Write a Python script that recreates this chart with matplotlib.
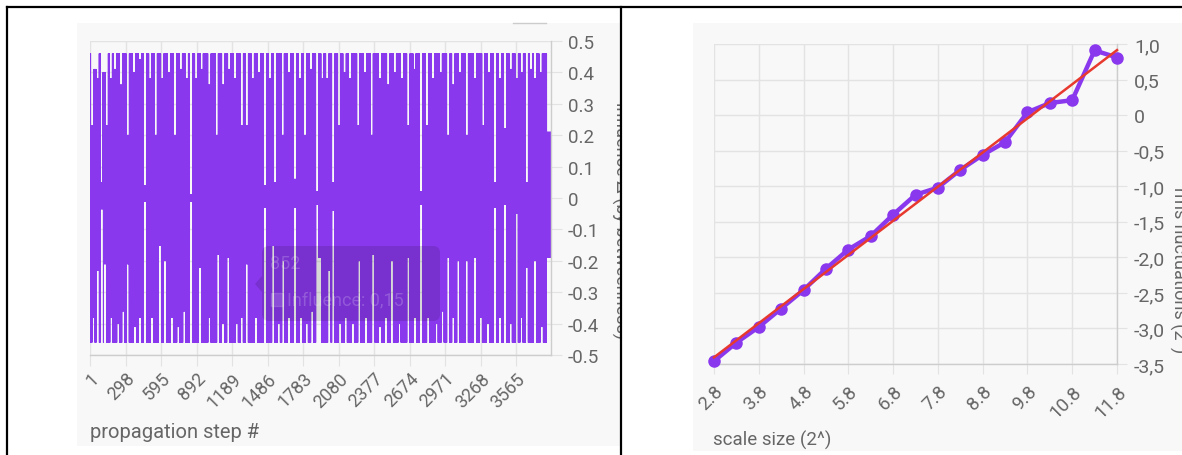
import matplotlib
matplotlib.use("Agg")
import matplotlib.pyplot as plt
import numpy as np
from matplotlib.lines import Line2D
from matplotlib.patches import FancyBboxPatch, Polygon, Rectangle
from matplotlib.transforms import Bbox, TransformedBbox

plt.rcParams["font.family"] = ["Roboto", "DejaVu Sans"]
plt.rcParams["path.simplify"] = False

# left chart: influence delta per propagation step
n_steps = 3857
step_ticks = [1, 298, 595, 892, 1189, 1486, 1783, 2080, 2377, 2674, 2971, 3268, 3565]
swing_top = 0.46
swing_bottom = -0.46
# pale streaks: step where the trace stops short of the top, and how high it gets there
top_gap_steps = [20, 42, 65, 99, 120, 141, 175, 210, 262, 316, 368, 419, 461, 505,
                 551, 606, 660, 712, 760, 810, 846, 890, 935, 1000, 1061, 1116, 1165,
                 1214, 1270, 1312, 1362, 1415, 1465, 1508, 1549, 1613, 1665, 1716,
                 1758, 1800, 1850, 1902, 1945, 1986, 2036, 2086, 2130, 2176, 2245,
                 2300, 2357, 2427, 2496, 2550, 2610, 2664, 2715, 2770, 2818, 2870,
                 2935, 2998, 3040, 3095, 3152, 3222, 3291, 3340, 3389, 3430, 3473,
                 3520, 3570, 3612, 3654, 3690, 3723, 3770]
top_gap_reach = [0.23, 0.41, 0.38, 0.05, 0.40, 0.23, 0.38, 0.41, 0.36, 0.20, 0.40,
                 0.44, 0.04, 0.38, 0.20, 0.38, 0.40, 0.20, 0.41, 0.38, 0.01, 0.38,
                 0.41, 0.36, 0.20, 0.36, 0.41, 0.38, 0.23, 0.23, 0.38, 0.40, 0.04,
                 0.38, 0.05, 0.20, 0.40, 0.06, 0.38, 0.20, 0.41, 0.02, 0.38, 0.38,
                 0.05, 0.23, 0.40, 0.38, 0.23, 0.40, 0.20, 0.38, 0.36, 0.40, 0.38,
                 0.23, 0.41, 0.02, 0.23, 0.38, 0.40, 0.20, 0.36, 0.40, 0.20, 0.38,
                 0.23, 0.40, 0.05, 0.38, 0.22, 0.41, 0.38, 0.40, 0.05, 0.41, 0.38,
                 0.40]
bottom_gap_steps = [30, 65, 99, 126, 180, 238, 280, 316, 377, 420, 461, 520, 586, 628,
                    685, 740, 790, 846, 921, 1000, 1074, 1115, 1158, 1228, 1270, 1312,
                    1390, 1465, 1534, 1580, 1618, 1665, 1716, 1765, 1814, 1860, 1902,
                    1925, 2003, 2036, 2092, 2140, 2200, 2254, 2310, 2371, 2427, 2475,
                    2525, 2590, 2664, 2720, 2770, 2830, 2900, 2950, 2998, 3040, 3082,
                    3152, 3222, 3270, 3330, 3389, 3430, 3473, 3520, 3570, 3610, 3654,
                    3723, 3779]
bottom_gap_reach = [-0.38, -0.23, -0.035, -0.21, -0.38, -0.40, -0.36, -0.21, -0.41,
                    -0.38, -0.01, -0.38, -0.15, -0.20, -0.38, -0.41, -0.36, -0.01,
                    -0.22, -0.38, -0.18, -0.40, -0.19, -0.40, -0.38, -0.21, -0.38,
                    -0.03, -0.15, -0.40, -0.20, -0.38, -0.03, -0.38, -0.40, -0.36,
                    -0.02, -0.19, -0.23, -0.04, -0.40, -0.38, -0.40, -0.20, -0.38,
                    -0.18, -0.41, -0.38, -0.20, -0.40, -0.19, -0.38, -0.02, -0.38,
                    -0.40, -0.36, -0.19, -0.38, -0.20, -0.20, -0.19, -0.38, -0.40,
                    -0.03, -0.38, -0.02, -0.40, -0.05, -0.38, -0.22, -0.20, -0.41]
tail_start = 3822
tail_top = 0.21
tail_bottom = -0.19

# right chart: rms fluctuations vs scale size
scale_sizes = [2.8, 3.3, 3.8, 4.3, 4.8, 5.3, 5.8, 6.3, 6.8, 7.3, 7.8, 8.3, 8.8, 9.3,
               9.8, 10.3, 10.8, 11.3, 11.8]
rms_fluct = [-3.46, -3.20, -2.98, -2.72, -2.46, -2.16, -1.89, -1.70, -1.40, -1.12,
             -1.02, -0.77, -0.56, -0.38, 0.04, 0.17, 0.21, 0.91, 0.81]
scale_ticks = [2.8, 3.8, 4.8, 5.8, 6.8, 7.8, 8.8, 9.8, 10.8, 11.8]

W, H = 1182, 456
PURPLE = "#8a38ee"
GRID = "#e3e3e3"
AXLINE = "#cdcdcd"
TXT = "#666666"
BG = "#f8f8f8"
PT = 0.72  # points per pixel at dpi 100


def fx(px):
    return px / W


def fy(py):
    return 1 - py / H


gap_half = 11
steps = np.arange(1, n_steps + 1)
upper = np.full(n_steps, swing_top)
lower = np.full(n_steps, swing_bottom)
for s, v in zip(top_gap_steps, top_gap_reach):
    upper[max(s - 1 - gap_half, 0): s + gap_half] = v
for s, v in zip(bottom_gap_steps, bottom_gap_reach):
    lower[max(s - 1 - gap_half, 0): s + gap_half] = v
upper[tail_start - 1:] = tail_top
lower[tail_start - 1:] = tail_bottom
influence = np.where(steps % 2 == 1, upper, lower)

fig = plt.figure(figsize=(W / 100, H / 100), dpi=100)
fig.patch.set_facecolor("white")

# chart backgrounds
for x0, y0, x1, y1 in [(77, 24, 620, 447), (693, 24, 1182, 452)]:
    fig.patches.append(Rectangle((fx(x0), fy(y1)), fx(x1 - x0), (y1 - y0) / H,
                                 transform=fig.transFigure, facecolor=BG,
                                 edgecolor="none", zorder=-10))


def style_axes(ax, label_size):
    ax.set_facecolor("none")
    for side in ("left", "top"):
        ax.spines[side].set_visible(False)
    for side in ("right", "bottom"):
        ax.spines[side].set_color(AXLINE)
        ax.spines[side].set_linewidth(1.0)
    ax.grid(True, color=GRID, linewidth=1.0)
    ax.set_axisbelow(True)
    ax.yaxis.tick_right()
    ax.tick_params(axis="y", length=11 * PT, color=GRID, pad=6 * PT,
                   labelsize=label_size, labelcolor=TXT)
    ax.tick_params(axis="x", length=11 * PT, color=GRID, pad=3 * PT, labelsize=13,
                   labelcolor=TXT)


# ---- left chart ----
ax1 = fig.add_axes([fx(90), fy(356), fx(461), 314 / H])
style_axes(ax1, 13.5)
ax1.plot(steps, influence, color=PURPLE, linewidth=0.5)
ax1.set_xlim(1, n_steps)
ax1.set_ylim(-0.5, 0.5)
yt1 = np.round(np.arange(-0.5, 0.51, 0.1), 1)
ax1.set_yticks(yt1)
ax1.set_yticklabels(["0" if v == 0 else f"{v:.1f}" for v in yt1])
ax1.set_xticks(step_ticks)
ax1.set_xticklabels([str(s) for s in step_ticks], rotation=45, ha="right",
                    va="top", rotation_mode="anchor")

# ---- right chart ----
ax2 = fig.add_axes([fx(714), fy(365), fx(403), 320 / H])
style_axes(ax2, 14)
fit = np.polyfit(scale_sizes, rms_fluct, 1)
trend_x = np.array([scale_sizes[0], scale_sizes[-1]])
ax2.plot(scale_sizes, rms_fluct, color=PURPLE, linewidth=3.2, marker="o",
         markersize=8, solid_joinstyle="round", zorder=3, clip_on=False)
ax2.plot(trend_x, np.polyval(fit, trend_x), color="#e8392f", linewidth=1.8,
         zorder=4, clip_on=False)
ax2.set_xlim(2.8, 11.8)
ax2.set_ylim(-3.5, 1.0)
yt2 = np.arange(-3.5, 1.01, 0.5)
ax2.set_yticks(yt2)
ax2.set_yticklabels(["0" if abs(v) < 1e-9 else f"{v:.1f}".replace(".", ",")
                     for v in yt2])
ax2.set_xticks(scale_ticks)
ax2.set_xticklabels([f"{v:.1f}" for v in scale_ticks], rotation=45, ha="right",
                    va="top", rotation_mode="anchor")
ax2.tick_params(axis="x", length=10 * PT, pad=8 * PT, labelsize=13.5)
ax2.tick_params(axis="y", length=10 * PT, pad=7 * PT)

# axis titles
fig.text(fx(90), fy(433), "propagation step #", fontsize=14.5, color=TXT,
         ha="left", va="center")
fig.text(fx(713), fy(440), "scale size (2^)", fontsize=13.5, color=TXT,
         ha="left", va="center")
ylab1 = fig.text(fx(611), fy(221), "influence Δ (by betweenness)", fontsize=13,
                 color=TXT, rotation=-90, ha="left", va="center")
ylab1.set_clip_box(TransformedBbox(Bbox([[0, 0], [fx(620), 1]]), fig.transFigure))
ylab1.set_clip_on(True)
fig.text(fx(1169), fy(270), "rms fluctuations (2^)", fontsize=13, color=TXT,
         rotation=-90, ha="left", va="center")

# faded tooltip left over in the screenshot
px = fig.dpi_scale_trans
tip = FancyBboxPatch((2.62, (H - 322) / 100), 1.78, 0.75,
                     boxstyle="round,pad=0,rounding_size=0.07", transform=px,
                     facecolor="black", alpha=0.13, edgecolor="none", zorder=5)
fig.patches.append(tip)
fig.patches.append(Polygon([(2.62, (H - 277) / 100), (2.55, (H - 285) / 100),
                            (2.62, (H - 293) / 100)], closed=True, transform=px,
                           facecolor="black", alpha=0.13, edgecolor="none",
                           zorder=5))
fig.patches.append(Rectangle((2.71, (H - 307) / 100), 0.12, 0.13, transform=px,
                             facecolor="white", alpha=0.15, edgecolor="white",
                             linewidth=1, zorder=6))
fig.text(2.70, (H - 264) / 100, "852", transform=px, fontsize=13,
         color="white", alpha=0.2, ha="left", va="center", zorder=6)
fig.text(2.87, (H - 300) / 100, "Influence: 0,15", transform=px, fontsize=13,
         color="white", alpha=0.2, ha="left", va="center", zorder=6)

# table cell borders and the stray legend stroke
for xs, ys in [((7, 1182), (8, 8)), ((7, 7), (8, 456)), ((621, 621), (8, 456))]:
    fig.lines.append(Line2D([fx(x) for x in xs], [fy(y) for y in ys],
                            transform=fig.transFigure, color="black",
                            linewidth=1.6, zorder=10))
fig.lines.append(Line2D([fx(513), fx(546)], [fy(24), fy(24)],
                        transform=fig.transFigure, color="#cccccc", linewidth=1,
                        zorder=4))

fig.savefig("out.png", dpi=100)
